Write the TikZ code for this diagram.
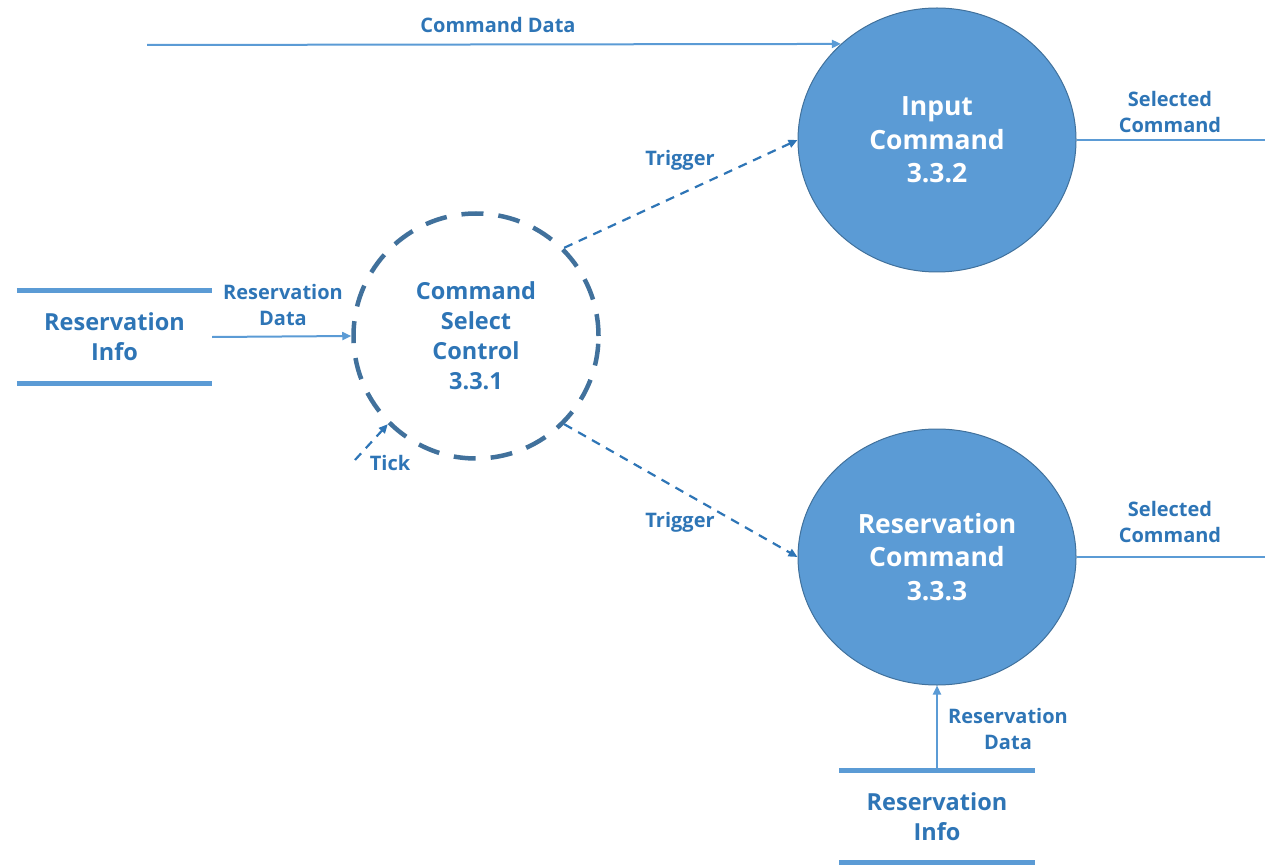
\documentclass[tikz,border=0pt]{standalone}
\usepackage{fontspec}
\setmainfont{Open Sans}[BoldFont={Open Sans Bold}]
\usetikzlibrary{shapes.geometric,arrows.meta}
\definecolor{txtblue}{HTML}{2E75B6}
\definecolor{fillblue}{HTML}{5B9BD5}
\definecolor{edgeblue}{HTML}{41719C}
\definecolor{lineblue}{HTML}{5B9BD5}
\tikzset{
  proc/.style={ellipse, draw=edgeblue, line width=1pt, fill=fillblue, text=white,
     minimum width=278pt, minimum height=264pt, inner sep=0pt, align=center,
     font=\bfseries\fontsize{26.5}{33.5}\selectfont},
  ctrl/.style={circle, draw=edgeblue, line width=4.5pt, dash pattern=on 22pt off 15pt,
     minimum size=245pt, inner sep=0pt, align=center, text=txtblue,
     font=\bfseries\fontsize{23.5}{30}\selectfont},
  store/.style={minimum width=195pt, minimum height=93pt, inner sep=0pt, align=center,
     text=txtblue, font=\bfseries\fontsize{23.5}{30}\selectfont},
  storeline/.style={draw=lineblue, line width=5pt},
  lbl/.style={text=txtblue, align=center, inner sep=0pt,
     font=\bfseries\fontsize{20}{26}\selectfont},
  flow/.style={draw=lineblue, line width=2pt, -{Triangle[length=9pt,width=8pt]}},
  plainflow/.style={draw=lineblue, line width=2pt},
  ctlflow/.style={draw=txtblue, line width=2.2pt, dash pattern=on 9pt off 7pt,
     -{Triangle[length=9pt,width=8pt]}}
}
\begin{document}
\begin{tikzpicture}[x=1pt,y=-1pt]
\useasboundingbox (0,0) rectangle (1265,866);
% processes
\node[proc] (ic) at (937,140) {Input\\Command\\3.3.2};
\node[proc, minimum height=256pt] (rc) at (937,557) {Reservation\\Command\\3.3.3};
\node[ctrl] (dc) at (476,336) {Command\\Select\\Control\\3.3.1};
% stores
\node[store] (s1) at (114.5,337) {Reservation\\Info};
\draw[storeline] (s1.north west) -- (s1.north east);
\draw[storeline] (s1.south west) -- (s1.south east);
\node[store, minimum height=91pt] (s2) at (937,816.5) {Reservation\\Info};
\draw[storeline] (s2.north west) -- (s2.north east);
\draw[storeline] (s2.south west) -- (s2.south east);
% free ends
\coordinate (cdin) at (147,45);
\coordinate (tickin) at (355,460);
\coordinate (out1) at (1265,140);
\coordinate (out2) at (1265,557);
% flows
\draw[flow] (cdin) -- (ic.135);
\draw[plainflow] (ic.east) -- (out1);
\draw[plainflow] (rc.east) -- (out2);
\draw[flow] (s1.east) -- (dc.west);
\draw[flow] (s2.north) -- (rc.south);
\draw[ctlflow] (dc.45) -- (ic.west);
\draw[ctlflow] (dc.-45) -- (rc.west);
\draw[ctlflow] (tickin) -- (dc.225);
% labels
\node[lbl] (l1) at (498,25) {Command Data};
\node[lbl] (l2) at (1170,112) {Selected\\Command};
\node[lbl] (l3) at (1170,522) {Selected\\Command};
\node[lbl] (l4) at (680,160) {Trigger};
\node[lbl] (l5) at (680,522) {Trigger};
\node[lbl] (l6) at (283,305) {Reservation\\Data};
\node[lbl] (l7) at (390,463) {Tick};
\node[lbl] (l8) at (1008,729) {Reservation\\Data};
\end{tikzpicture}
\end{document}
